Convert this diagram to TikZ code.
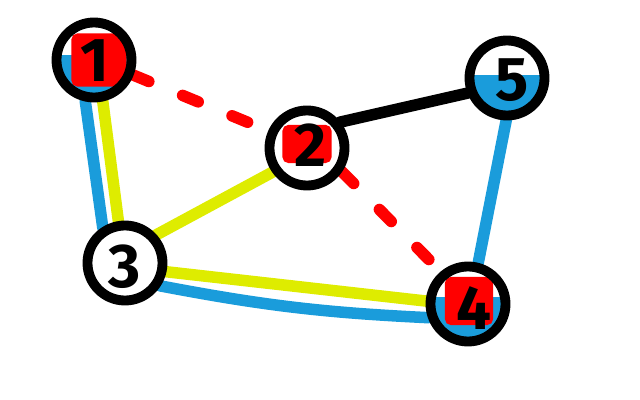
\documentclass[tikz,border=0pt]{standalone}
\usepackage{fontspec}
\setsansfont{Fira Sans}
\definecolor{water}{RGB}{26,156,219}
\definecolor{lime}{RGB}{222,236,0}
\definecolor{flag}{RGB}{255,0,0}
\begin{document}
\begin{tikzpicture}[x=0.025cm,y=-0.025cm,
  vertex/.style={circle,fill=white,minimum size=2.1cm,inner sep=0pt,outer sep=0pt},
  ring/.style={line width=7pt},
  badge/.style={fill=flag,rounded corners=4pt,inner sep=0pt},
  digit/.style={font=\sffamily\bfseries\fontsize{44}{44}\selectfont,inner sep=0pt},
  wire/.style={line width=8.2pt,line cap=round},
  bluewire/.style={wire,water},
  limewire/.style={wire,lime},
  redwire/.style={wire,flag,dash pattern=on 12pt off 26pt},
  blackwire/.style={wire,black}]
\useasboundingbox (0,0) rectangle (640,400);
\node[vertex] (n1) at (94,60) {};
\node[vertex] (n2) at (307,148) {};
\node[vertex] (n3) at (125,263) {};
\node[vertex] (n4) at (468,304) {};
\node[vertex] (n5) at (507,78) {};
\draw[bluewire] (n1.-102) -- (n3.122);
\draw[limewire] (n1.-78) -- (n3.99);
\draw[redwire] (n1.-21) -- (n2.156);
\draw[blackwire] (n2.38) -- (n5.201);
\draw[redwire] (n2.-34) -- (n4.130);
\draw[limewire] (n3.42) -- (n2.215);
\draw[limewire] (n3.-12) -- (n4.176);
\draw[bluewire] (n3.-33) to[bend right=4] (n4.199);
\draw[bluewire] (n5.-91) -- (n4.76);
\begin{scope}
\clip (n1.center) circle[radius=0.85cm];
\fill[water] (40,55) rectangle (150,110);
\end{scope}
\begin{scope}
\clip (n4.center) circle[radius=0.85cm];
\fill[water] (410,297) rectangle (530,350);
\end{scope}
\begin{scope}
\clip (n5.center) circle[radius=0.85cm];
\fill[water] (450,75) rectangle (570,130);
\end{scope}
\node[badge,minimum width=1.375cm,minimum height=1.325cm] (b1) at (99,60) {};
\node[badge,minimum width=1.225cm,minimum height=0.95cm] (b2) at (307,144) {};
\node[badge,minimum width=1.2cm,minimum height=1.2cm] (b4) at (469,301) {};
\node[digit] (d1) at (95,61) {1};
\node[digit] (d2) at (310,145) {2};
\node[digit] (d3) at (125,267) {3};
\node[digit] (d4) at (474,308) {4};
\node[digit] (d5) at (512,80) {5};
\foreach \v in {n1,n2,n3,n4,n5}
  \draw[ring] (\v.center) circle[radius=0.9375cm];
\end{tikzpicture}
\end{document}
